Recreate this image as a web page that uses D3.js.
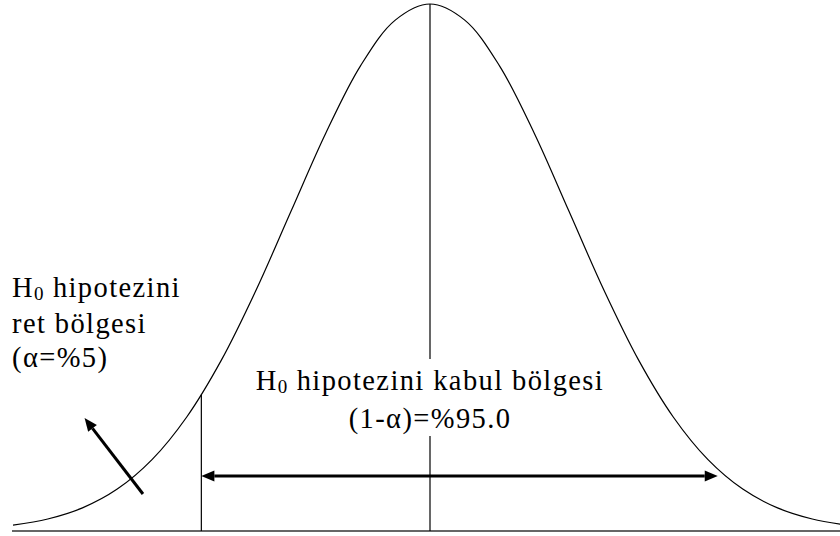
<!DOCTYPE html>
<html>
<head>
<meta charset="utf-8">
<script src="https://cdn.jsdelivr.net/npm/d3@7"></script>
</head>
<body style="margin:0">
<svg id="chart" width="840" height="536"></svg>
<script>
// Standard normal density, tabulated
const zValues = [-3.0, -2.75, -2.5, -2.25, -2.0, -1.75, -1.5, -1.25, -1.0, -0.75, -0.5, -0.25,
                 0, 0.25, 0.5, 0.75, 1.0, 1.25, 1.5, 1.75, 2.0, 2.25, 2.5, 2.75, 3.0];
const densityValues = [0.0044, 0.0091, 0.0175, 0.0317, 0.0540, 0.0863, 0.1295, 0.1826, 0.2420, 0.3011, 0.3521, 0.3867,
                       0.3989, 0.3867, 0.3521, 0.3011, 0.2420, 0.1826, 0.1295, 0.0863, 0.0540, 0.0317, 0.0175, 0.0091, 0.0044];

// Critical value for alpha = 5% (one-tailed) and its density
const criticalZ = -1.645;
const criticalDensity = 0.1031;

// Labels
const rejectLines = ["hipotezini", "ret bölgesi", "(α=%5)"];
const acceptLines = ["hipotezini kabul bölgesi", "(1-α)=%95.0"];

const svg = d3.select("#chart");

const x = d3.scaleLinear().domain([-3, 3]).range([13, 847]);
const y = d3.scaleLinear().domain([0, 0.3989]).range([531, 4]);

const points = zValues.map((z, i) => [z, densityValues[i]]);

// baseline
svg.append("line")
  .attr("x1", 12).attr("x2", 840)
  .attr("y1", y(0)).attr("y2", y(0))
  .attr("stroke", "#333").attr("stroke-width", 1.6);

// density curve
svg.append("path")
  .datum(points)
  .attr("d", d3.line().x(d => x(d[0])).y(d => y(d[1])).curve(d3.curveCatmullRom.alpha(0.5)))
  .attr("fill", "none").attr("stroke", "#000").attr("stroke-width", 1.2);

// mean line, broken around the acceptance label
svg.append("line")
  .attr("x1", x(0)).attr("x2", x(0))
  .attr("y1", y(0.3989)).attr("y2", 359)
  .attr("stroke", "#000").attr("stroke-width", 1.2);
svg.append("line")
  .attr("x1", x(0)).attr("x2", x(0))
  .attr("y1", 436).attr("y2", y(0))
  .attr("stroke", "#000").attr("stroke-width", 1.2);

// critical value line
svg.append("line")
  .attr("x1", x(criticalZ)).attr("x2", x(criticalZ))
  .attr("y1", y(criticalDensity)).attr("y2", y(0))
  .attr("stroke", "#000").attr("stroke-width", 1.2);

// filled triangular arrow head at (x2, y2); returns the point where the shaft ends
function arrowHead(x1, y1, x2, y2) {
  const a = Math.atan2(y2 - y1, x2 - x1), L = 13, W = 5.5;
  const bx = x2 - L * Math.cos(a), by = y2 - L * Math.sin(a);
  const px = -Math.sin(a) * W, py = Math.cos(a) * W;
  svg.append("path")
    .attr("d", `M${x2},${y2}L${bx + px},${by + py}L${bx - px},${by - py}Z`)
    .attr("fill", "#000");
  return [bx, by];
}

// acceptance region span
{
  const ax1 = x(criticalZ), ax2 = x(2.07), ay = y(0.0416);
  const [lx] = arrowHead(ax2, ay, ax1, ay);
  const [rx] = arrowHead(ax1, ay, ax2, ay);
  svg.append("line").attr("x1", lx).attr("x2", rx).attr("y1", ay).attr("y2", ay)
    .attr("stroke", "#000").attr("stroke-width", 3);
}

// pointer to the rejection region
{
  const px1 = x(-2.065), py1 = y(0.0280), px2 = x(-2.485), py2 = y(0.0855);
  const [bx, by] = arrowHead(px1, py1, px2, py2);
  svg.append("line").attr("x1", px1).attr("y1", py1).attr("x2", bx).attr("y2", by)
    .attr("stroke", "#000").attr("stroke-width", 3);
}

const FS = 28.5, SUB = 19, SPACING = 1.4;

// plain text element in the label font
function label(str, px, py, size) {
  return svg.append("text")
    .attr("x", px).attr("y", py)
    .attr("font-size", size)
    .style("font-family", '"Liberation Serif"')
    .style("letter-spacing", SPACING + "px")
    .style("white-space", "pre")
    .text(str);
}

// one label line, optionally led by "H" with subscript 0; returns its parts and width
function labelLine(str, left, py, withH0) {
  let cx = left;
  const parts = [];
  if (withH0) {
    const h = label("H", cx, py, FS); cx += h.node().getComputedTextLength();
    const z = label("0", cx, py + 3, SUB); cx += z.node().getComputedTextLength();
    cx += 8;
    parts.push(h, z);
  }
  const m = label(str, cx, py, FS);
  parts.push(m);
  cx += m.node().getComputedTextLength();
  return { parts, width: cx - left };
}

// rejection label
rejectLines.forEach((s, i) => {
  labelLine(s, 12, [297, 333, 367][i], i === 0);
});

// acceptance label, centred on the mean
acceptLines.forEach((s, i) => {
  const py = [390, 428][i];
  const line = labelLine(s, 0, py, i === 0);
  const shift = x(0) - line.width / 2;
  line.parts.forEach(p => p.attr("x", +p.attr("x") + shift));
});
</script>
</body>
</html>
